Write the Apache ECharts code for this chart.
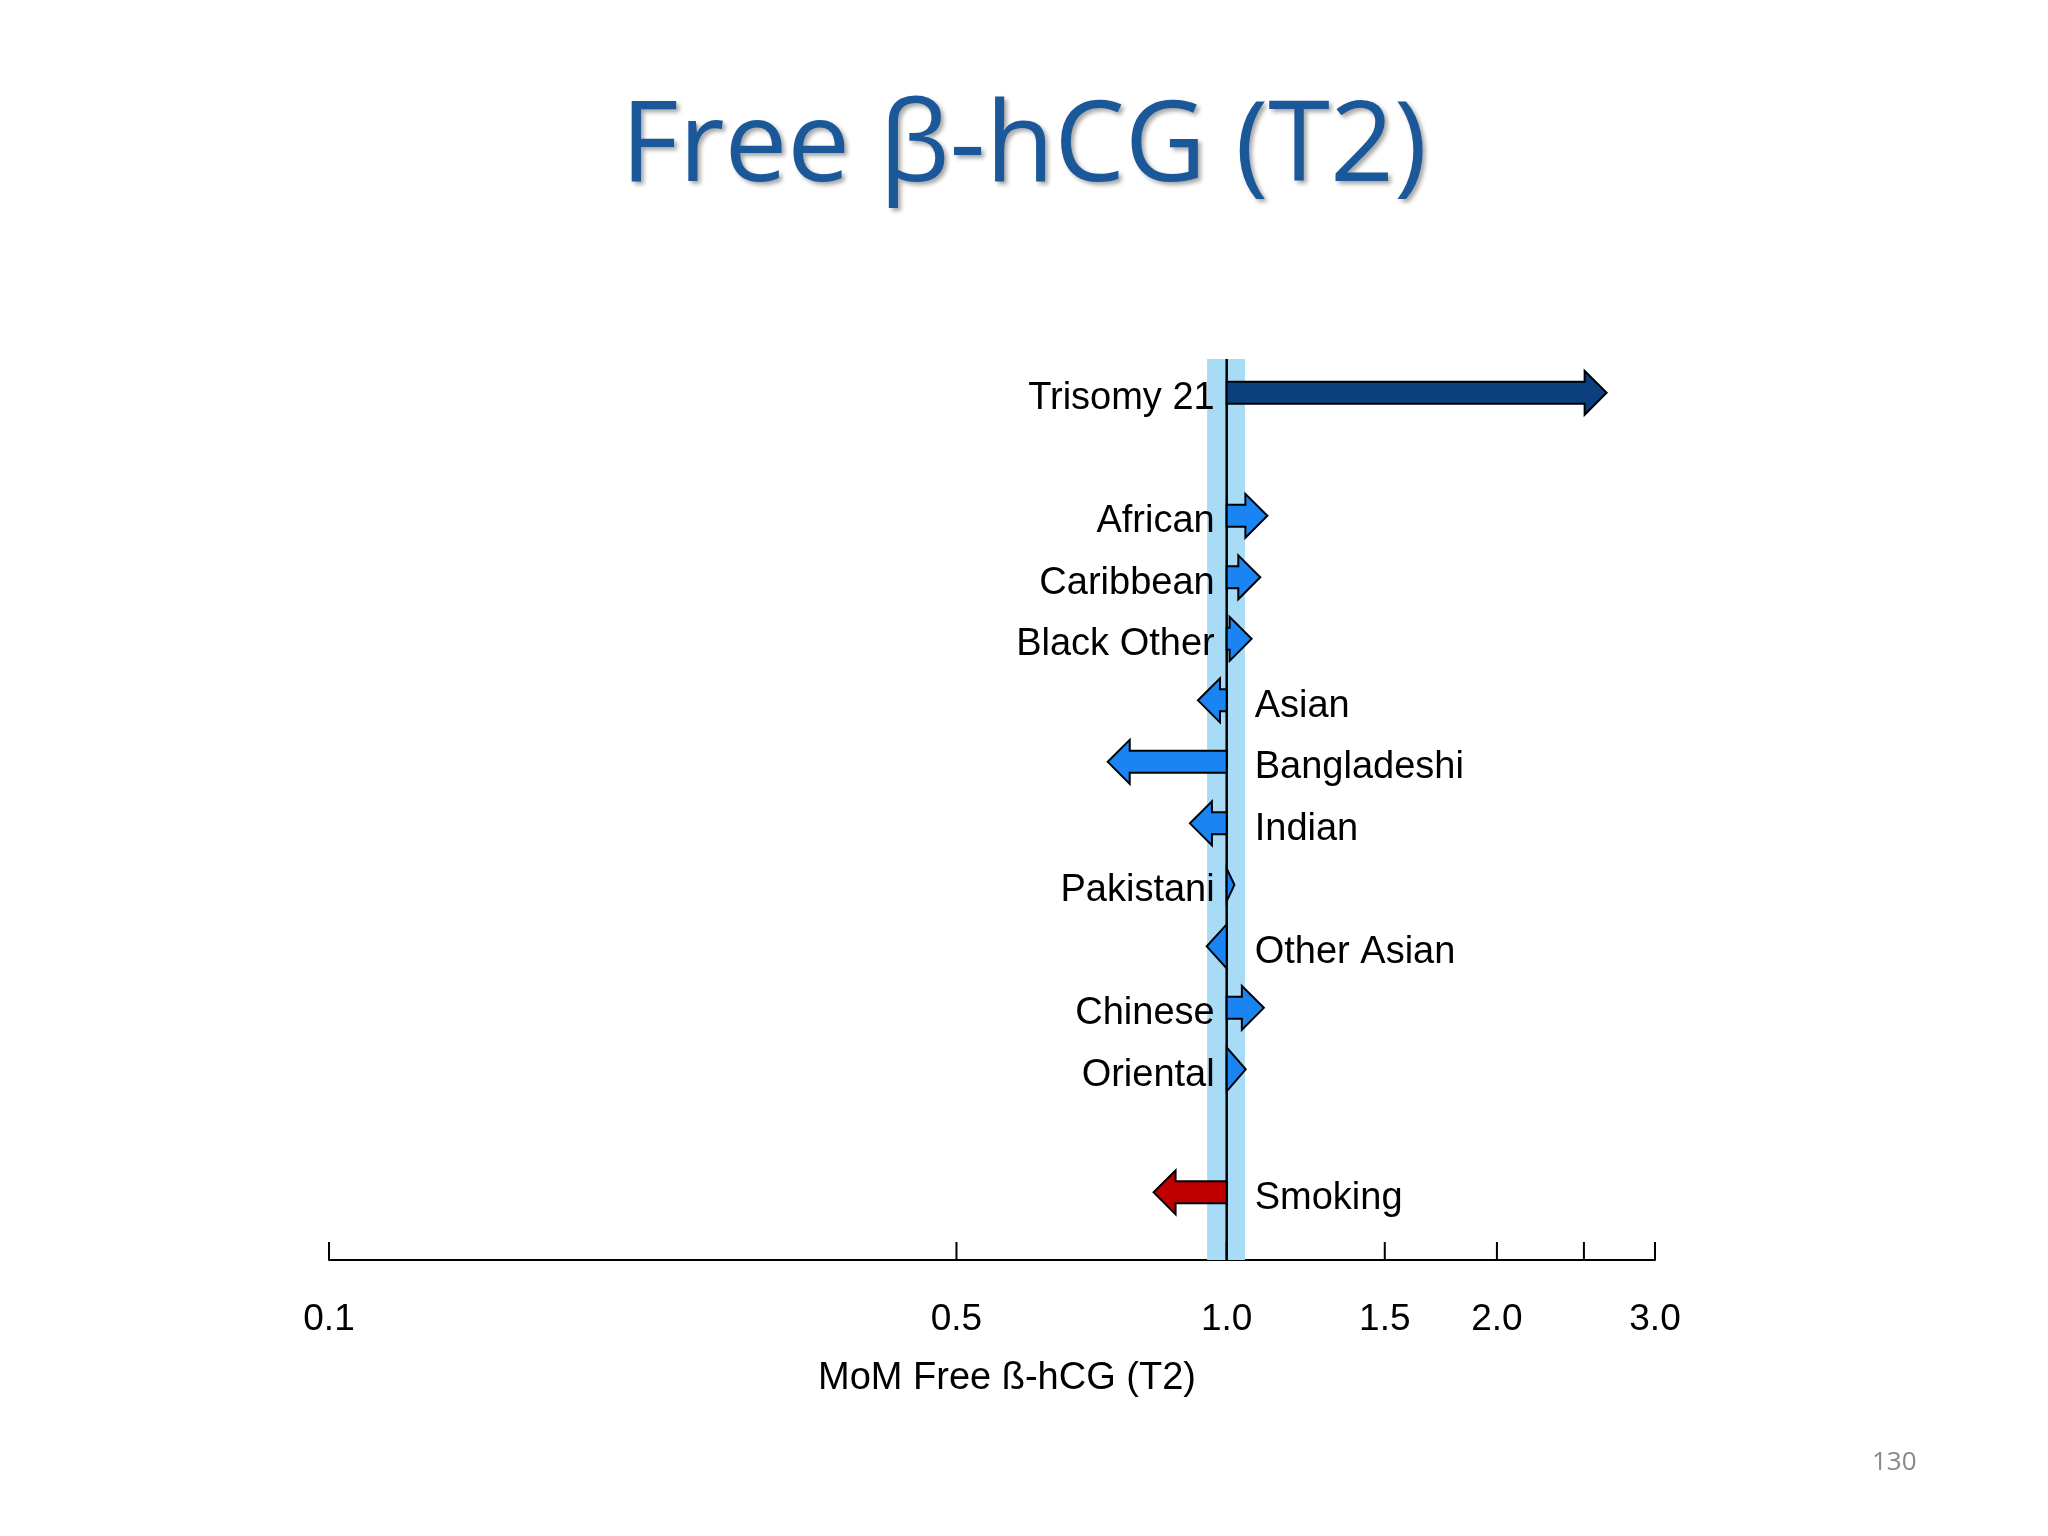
<!DOCTYPE html>
<html><head><meta charset="utf-8">
<script src="https://cdn.jsdelivr.net/npm/echarts@6/dist/echarts.min.js"></script>
<style>html,body{margin:0;padding:0;background:#fff}#c{width:2048px;height:1536px}</style>
</head><body><div id="c"></div>
<script>
const categories = ['Trisomy 21','African','Caribbean','Black Other','Asian','Bangladeshi','Indian','Pakistani','Other Asian','Chinese','Oriental','Smoking'];
const rowPos = [0,2,3,4,5,6,7,8,9,10,11,13];
const momValues = [2.65,1.11,1.09,1.066,0.929,0.737,0.91,1.02,0.95,1.10,1.05,0.829];
const arrowColors = ['#0b3f7e','#1a84f2','#1a84f2','#1a84f2','#1a84f2','#1a84f2','#1a84f2','#1a84f2','#1a84f2','#1a84f2','#1a84f2','#c00000'];
const tickValues = [0.1,0.5,1.0,1.5,2.0,2.5,3.0];
const tickLabels = ['0.1','0.5','1.0','1.5','2.0','','3.0'];
const bandRange = [0.951,1.048];

const font = '"Liberation Sans", Arial, sans-serif';
const chart = echarts.init(document.getElementById('c'));
const arrowData = categories.map((c,i)=>[momValues[i], rowPos[i], i]);

chart.setOption({
  animation:false,
  title:{text:'Free β-hCG (T2)',left:'center',top:88,textStyle:{fontFamily:'"Open Sans", "Noto Sans", sans-serif',fontSize:112,fontWeight:'normal',color:'#1a5899',textShadowColor:'rgba(0,0,0,0.35)',textShadowBlur:4,textShadowOffsetX:3,textShadowOffsetY:3}},
  graphic:[{type:'text',left:1872,top:1450,style:{text:'130',fontSize:26,fill:'#888',fontFamily:'"Open Sans", sans-serif'}}],
  grid:{left:329,right:393,top:359,bottom:276},
  xAxis:{type:'log',min:0.1,max:3,logBase:10,axisLine:{show:true,onZero:false,lineStyle:{color:'#000',width:2}},axisTick:{show:false},axisLabel:{show:false},splitLine:{show:false},
    name:'MoM Free ß-hCG (T2)',nameLocation:'middle',nameGap:100,nameTextStyle:{fontFamily:font,fontSize:38,color:'#000',padding:[0,0,0,30]}},
  yAxis:{type:'value',inverse:true,min:-0.55,max:14.1,show:false},
  series:[
    {type:'custom',z:1,data:[[bandRange[0],bandRange[1]]],renderItem:(p,api)=>{
      const a=api.coord([api.value(0),-0.55]), b=api.coord([api.value(1),14.1]);
      return {type:'rect',shape:{x:a[0],y:a[1],width:b[0]-a[0],height:b[1]-a[1]},style:{fill:'#a8dcf6'}};
    }},
    {type:'custom',z:3,data:[[1]],renderItem:(p,api)=>{
      const a=api.coord([1,-0.55]), b=api.coord([1,14.1]);
      return {type:'line',shape:{x1:a[0],y1:a[1],x2:b[0],y2:b[1]},style:{stroke:'#000',lineWidth:2.5}};
    }},
    {type:'custom',z:4,data:arrowData,renderItem:(p,api)=>{
      const v=api.value(0), y=api.value(1), i=api.value(2);
      const s=api.coord([1,y]), e=api.coord([v,y]);
      const dir = v>=1?1:-1;
      const yc=s[1], hs=11, hh=22, hl=22;
      let len=Math.abs(e[0]-s[0]);
      const x0=s[0], xt=e[0];
      let pts;
      if(len<=hl){
        const base=x0; pts=[[base,yc-Math.min(hh,len*1.1+8)],[xt,yc],[base,yc+Math.min(hh,len*1.1+8)]];
      } else {
        const xb=xt-dir*hl;
        pts=[[x0,yc-hs],[xb,yc-hs],[xb,yc-hh],[xt,yc],[xb,yc+hh],[xb,yc+hs],[x0,yc+hs]];
      }
      const pos = v>=1;
      return {type:'group',children:[
        {type:'polygon',shape:{points:pts},style:{fill:arrowColors[i],stroke:'#000',lineWidth:2}},
        {type:'text',style:{text:categories[i],x:pos?x0-12:x0+28,y:yc+6,align:pos?'right':'left',verticalAlign:'middle',font:'38px '+font,fill:'#000'}}
      ]};
    }},
    {type:'custom',z:5,data:tickValues.map((t,i)=>[t,i]),renderItem:(p,api)=>{
      const t=api.value(0), i=api.value(1);
      const c=api.coord([t,14.1]);
      return {type:'group',children:[
        {type:'line',shape:{x1:c[0],y1:c[1],x2:c[0],y2:c[1]-18},style:{stroke:'#000',lineWidth:2}},
        {type:'text',style:{text:tickLabels[i],x:c[0],y:c[1]+60,align:'center',verticalAlign:'middle',font:'37px '+font,fill:'#000'}}
      ]};
    }}
  ]
});
</script></body></html>
